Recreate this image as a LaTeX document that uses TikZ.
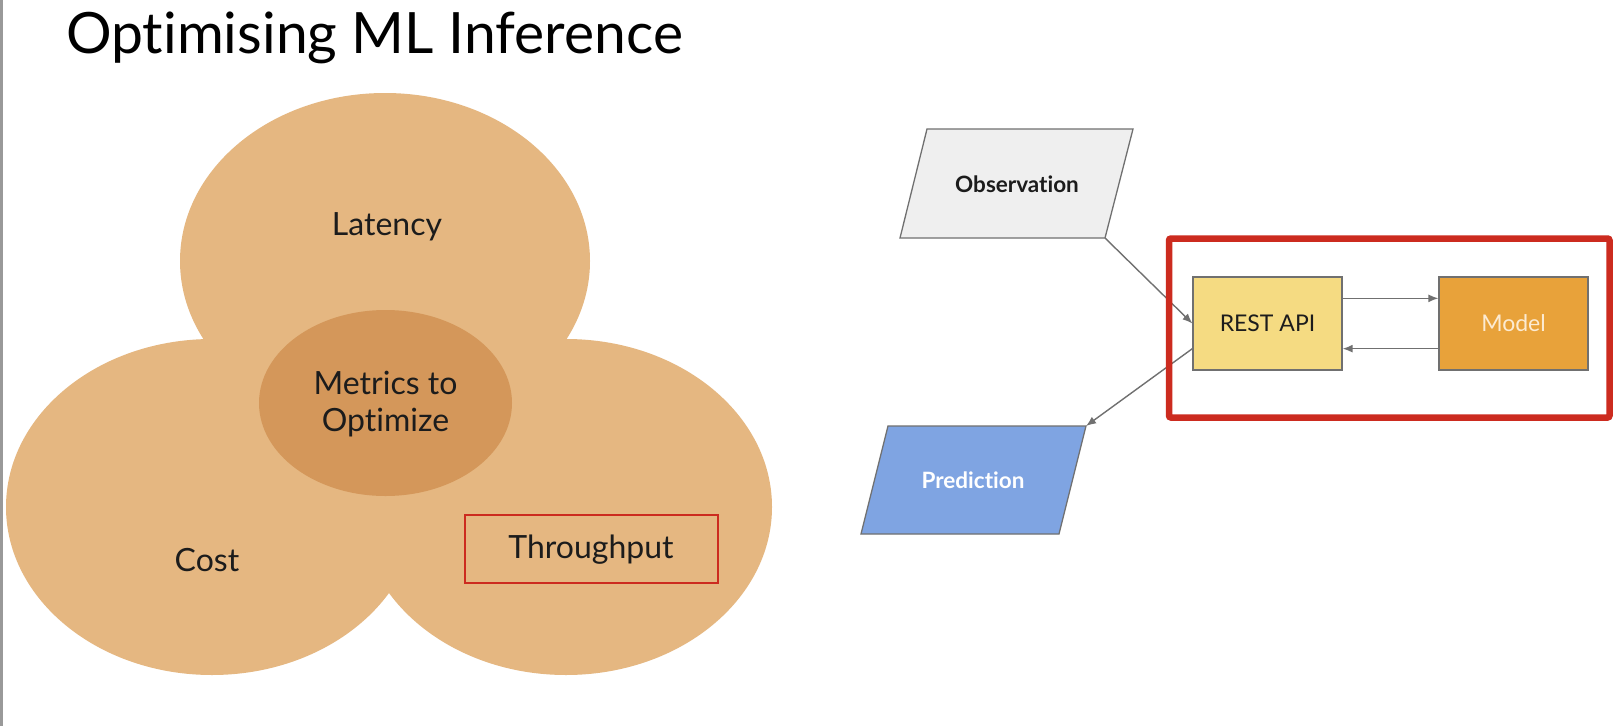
\documentclass[tikz,border=0pt]{standalone}
\usepackage{fontspec}
\setmainfont{Lato}[Ligatures=NoCommon]
\usetikzlibrary{arrows.meta,calc}
\definecolor{blob}{HTML}{E5B781}
\definecolor{core}{HTML}{D4975A}
\definecolor{hl}{HTML}{CC2B1F}
\definecolor{obsfill}{HTML}{EFEFEF}
\definecolor{restfill}{HTML}{F5DB82}
\definecolor{modelfill}{HTML}{E8A23A}
\definecolor{predfill}{HTML}{7FA4E2}
\definecolor{edgegray}{HTML}{707070}
\definecolor{ink}{HTML}{1C1C1C}
\definecolor{cream}{HTML}{FCEBD2}
\begin{document}
\begin{tikzpicture}[x=1pt,y=-1pt,
  lbl/.style={font=\fontsize{32}{36}\selectfont, text=ink, inner sep=0pt, anchor=base},
  smallbold/.style={font=\bfseries\fontsize{22.5}{26}\selectfont, inner sep=0pt, anchor=base},
  blockbox/.style={draw=edgegray, line width=1.3pt, minimum width=149pt, minimum height=93pt, inner sep=0pt, font=\fontsize{23}{27}\selectfont},
  para/.style={draw=edgegray, line width=1.3pt},
  arr/.style={draw=edgegray, line width=1.4pt, -{Latex[length=10pt,width=8pt]}}]
\useasboundingbox (0,0) rectangle (1620,726);
\fill[white] (0,0) rectangle (1620,726);
\fill[black!40] (0,0) rectangle (2.5,726);

% title
\node[anchor=base west, inner sep=0pt, font=\fontsize{57}{61}\selectfont] (title) at (66,53) {Optimising ML Inference};

% three overlapping ellipses
\fill[blob] (385,261) ellipse [x radius=205pt, y radius=168pt];
\fill[blob] (212,507) ellipse [x radius=206pt, y radius=168pt];
\fill[blob] (566,507) ellipse [x radius=206pt, y radius=168pt];
\fill[core] (385.5,403) ellipse [x radius=126.5pt, y radius=93pt];

\node[lbl] (latency) at (387,235) {Latency};
\node[lbl] (cost) at (207,571) {Cost};
\node[lbl] (metrics1) at (385.5,394) {Metrics to};
\node[lbl] (metrics2) at (385.5,431) {Optimize};
\node[draw=hl, line width=2.5pt, minimum width=253pt, minimum height=68pt, inner sep=0pt] (tbox) at (591.5,549) {};
\node[lbl] (through) at (591,558) {Throughput};

% right diagram
\draw[para, fill=obsfill] (927,129) -- (1133,129) -- (1105,238) -- (900,238) -- cycle;
\coordinate (obsBR) at (1105,238);
\node[smallbold, text=ink] (obs) at (1017,192) {Observation};

\draw[para, fill=predfill] (888,426) -- (1086,426) -- (1059,534) -- (861,534) -- cycle;
\coordinate (predTR) at (1086,426);
\node[smallbold, text=white] (pred) at (973,488) {Prediction};

\node[blockbox, fill=restfill, text=ink] (rest) at (1267.5,323.5) {REST API};
\node[blockbox, fill=modelfill, text=cream] (model) at (1513.5,323.5) {Model};

\draw[arr] (obsBR) -- (rest.west);
\draw[arr] ($(rest.north east)+(0,22)$) -- ($(model.north west)+(0,22)$);
\draw[arr] ($(model.south west)+(0,-22)$) -- ($(rest.south east)+(0,-22)$);
\draw[arr] ($(rest.south west)+(0,-22)$) -- (predTR);

\node[draw=hl, line width=6.5pt, rounded corners=2pt, minimum width=440.5pt, minimum height=179pt, inner sep=0pt] (focus) at (1389.25,328) {};
\end{tikzpicture}
\end{document}
